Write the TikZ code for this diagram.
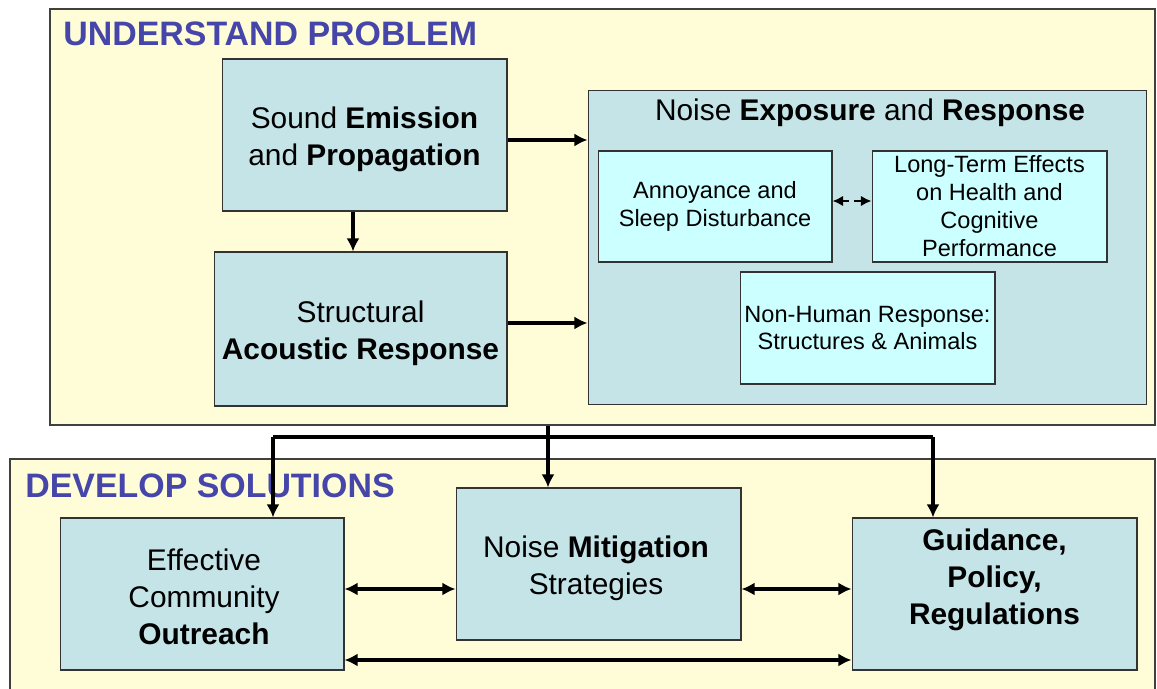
\documentclass[tikz,border=0pt]{standalone}
\usepackage{fontspec}
\setmainfont{Liberation Sans}
\usetikzlibrary{arrows.meta}
\definecolor{panelyellow}{HTML}{FFFDD7}
\definecolor{boxblue}{HTML}{C4E4E8}
\definecolor{boxcyan}{HTML}{CCFFFF}
\definecolor{headblue}{HTML}{4646AA}

\begin{document}
\begin{tikzpicture}[x=0.02cm, y=-0.02cm,
	panel/.style={draw=black!75, line width=0.8pt, fill=panelyellow, inner sep=0pt},
	heading/.style={text=headblue, font=\fontsize{19.3}{22}\selectfont\bfseries, anchor=base west, inner sep=0pt},
	bigbox/.style={draw=black!80, line width=0.6pt, fill=boxblue, align=center, font=\fontsize{17}{21}\selectfont, inner sep=0pt},
	smallbox/.style={draw=black!80, line width=0.6pt, fill=boxcyan, align=center, font=\fontsize{13.4}{15.9}\selectfont, inner sep=0pt},
	link/.style={-{Latex[length=7.5pt,width=7.5pt]}, line width=2pt},
	both/.style={{Latex[length=7.5pt,width=7.5pt]}-{Latex[length=7.5pt,width=7.5pt]}, line width=2pt}]
	\useasboundingbox (0,0) rectangle (1157,689);
	% the two panels
	\node[panel, minimum width=22.1cm, minimum height=8.32cm] (understand) at (602.5,217) {};
	\node[panel, minimum width=22.9cm, minimum height=4.8cm] (develop) at (582.5,579) {};
	\node[heading] (uphead) at (63,46) {UNDERSTAND PROBLEM};
	\node[heading] (dshead) at (25,497) {DEVELOP SOLUTIONS};
	% understand problem
	\node[bigbox, minimum width=5.7cm, minimum height=3.04cm] (sound) at (364.5,135) {};
	\node[font=\fontsize{17}{21}\selectfont, align=center] (soundtext) at (364.5,139) {Sound \textbf{Emission}\\and \textbf{Propagation}};
	\node[bigbox, minimum width=5.86cm, minimum height=3.08cm] (struct) at (360.5,329) {};
	\node[font=\fontsize{17}{21}\selectfont, align=center] (structtext) at (360.5,333) {Structural\\\textbf{Acoustic Response}};
	\node[bigbox, minimum width=11.18cm, minimum height=6.3cm] (expo) at (867.5,247.5) {};
	\node[font=\fontsize{17}{21}\selectfont, anchor=base, inner sep=0pt] (expotitle) at (870,121) {Noise \textbf{Exposure} and \textbf{Response}};
	\node[smallbox, minimum width=4.68cm, minimum height=2.22cm] (annoy) at (715,206.5) {Annoyance and\\Sleep Disturbance};
	\node[smallbox, minimum width=4.7cm, minimum height=2.22cm] (health) at (989.5,206.5) {Long-Term Effects\\on Health and\\Cognitive\\Performance};
	\node[smallbox, minimum width=5.1cm, minimum height=2.24cm] (nonhuman) at (867.5,328) {Non-Human Response:\\Structures \& Animals};
	% develop solutions
	\node[bigbox, minimum width=5.68cm, minimum height=3.04cm] (outreach) at (202,594) {};
	\node[font=\fontsize{17}{21}\selectfont, align=center] (outreachtext) at (204,597) {Effective\\Community\\\textbf{Outreach}};
	\node[bigbox, minimum width=5.7cm, minimum height=3.04cm] (mitig) at (598.5,564) {};
	\node[font=\fontsize{17}{21}\selectfont, align=center] (mitigtext) at (596,568) {Noise \textbf{Mitigation}\\Strategies};
	\node[bigbox, minimum width=5.7cm, minimum height=3.04cm] (guide) at (994.5,594) {};
	\node[font=\fontsize{17}{21}\selectfont\bfseries, align=center, inner sep=0pt] (guidetext) at (994.5,580) {Guidance,\\Policy,\\Regulations};
	% connectors
	\draw[link] (sound.east |- 0,140) -- (expo.west |- 0,140);
	\draw[link] (sound.south -| 353,0) -- (struct.north -| 353,0);
	\draw[link] (struct.east |- 0,323) -- (expo.west |- 0,323);
	\draw[{Latex[length=6pt,width=6pt]}-{Latex[length=6pt,width=6pt]}, line width=1.4pt, dash pattern=on 4pt off 3pt] (annoy.east |- 0,201) -- (health.west |- 0,201);
	\coordinate (split) at (548,437);
	\coordinate (lft) at (273,437);
	\coordinate (rgt) at (933,437);
	\draw[line width=2pt] (understand.south -| split) -- (split);
	\draw[line width=2pt] (lft) -- (rgt);
	\draw[link] (split) -- (mitig.north -| split);
	\draw[link] (lft) -- (outreach.north -| lft);
	\draw[link] (rgt) -- (guide.north -| rgt);
	\draw[both] (outreach.east |- 0,589) -- (mitig.west |- 0,589);
	\draw[both] (mitig.east |- 0,589) -- (guide.west |- 0,589);
	\draw[both] (outreach.east |- 0,660) -- (guide.west |- 0,660);
\end{tikzpicture}
\end{document}
